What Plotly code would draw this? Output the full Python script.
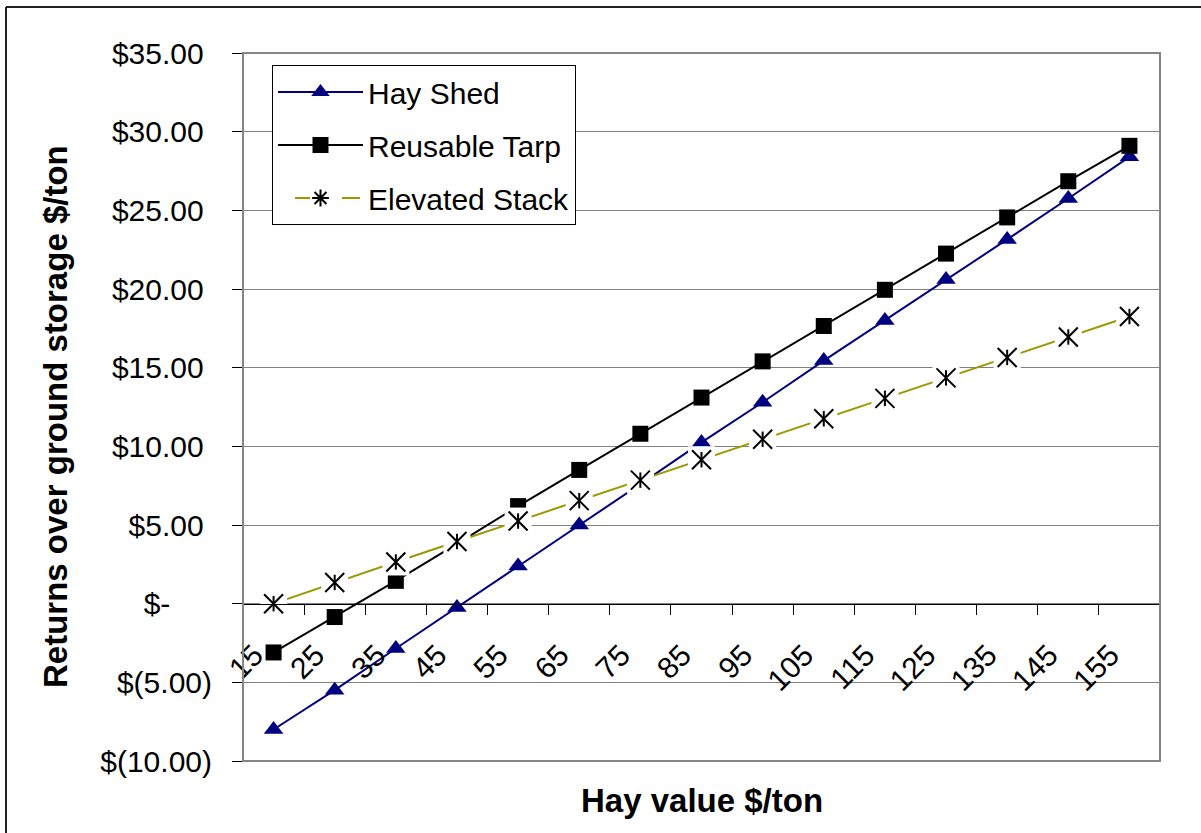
import plotly.graph_objects as go

# Hay value categories ($/ton)
hay_value = ["15", "25", "35", "45", "55", "65", "75", "85", "95",
             "105", "115", "125", "135", "145", "155"]

# Returns over ground storage ($/ton) for each storage method
hay_shed = [-8.0, -5.5, -2.85, -0.25, 2.4, 5.0, 7.6, 10.25, 12.8,
            15.45, 18.0, 20.6, 23.15, 25.75, 28.4]
reusable_tarp = [-3.1, -0.85, 1.45, 3.8, 6.2, 8.5, 10.8, 13.1, 15.4,
                 17.65, 19.95, 22.25, 24.55, 26.85, 29.1]
elevated_stack = [0.0, 1.35, 2.65, 3.95, 5.25, 6.55, 7.85, 9.15, 10.45,
                  11.75, 13.05, 14.35, 15.65, 16.95, 18.25]

# Accounting-style y tick labels
y_ticks = [-10, -5, 0, 5, 10, 15, 20, 25, 30, 35]
NB = "\u00a0"
y_tick_text = ["$(10.00)", "$(5.00)", "$-" + NB * 5, "$5.00" + NB, "$10.00" + NB,
               "$15.00" + NB, "$20.00" + NB, "$25.00" + NB, "$30.00" + NB, "$35.00" + NB]

NAVY = "#000080"
OLIVE = "#999900"
FONT = "Liberation Sans, Arial, sans-serif"
TXT = 30
TITLE = 33

W, H = 1201, 833
L, R, T, B = 243, 41, 53, 72
PW, PH = W - L - R, H - T - B


def px_x(px):
    return (px - L) / PW


def px_y(py):
    return (H - B - py) / PH


fig = go.Figure()

fig.add_trace(go.Scatter(
    x=hay_value, y=hay_shed, name="Hay Shed", mode="lines+markers",
    line=dict(color=NAVY, width=2),
    marker=dict(symbol="triangle-up", size=17, color=NAVY),
    legendgroup="a", legendrank=1,
))
fig.add_trace(go.Scatter(
    x=hay_value, y=reusable_tarp, name="Reusable Tarp", mode="lines+markers",
    line=dict(color="black", width=2),
    marker=dict(symbol="square", size=16, color="black"),
    legendgroup="b", legendrank=2,
))
# Elevated stack: line, white backing behind each star, then the star strokes
fig.add_trace(go.Scatter(
    x=hay_value, y=elevated_stack, mode="lines", showlegend=False,
    line=dict(color=OLIVE, width=2), hoverinfo="skip",
))
fig.add_trace(go.Scatter(
    x=hay_value, y=elevated_stack, mode="markers", showlegend=False,
    marker=dict(symbol="square", size=27, color="white", line=dict(width=0)),
    hoverinfo="skip",
))
fig.add_trace(go.Scatter(
    x=hay_value, y=elevated_stack, mode="markers", showlegend=False,
    marker=dict(symbol="x-thin-open", size=19, color="black",
                line=dict(color="black", width=2)),
    name="Elevated Stack",
))
fig.add_trace(go.Scatter(
    x=hay_value, y=elevated_stack, mode="markers", showlegend=False,
    marker=dict(symbol="line-ns-open", size=11, color="black",
                line=dict(color="black", width=2)),
    hoverinfo="skip",
))
# legend entry for the elevated stack series (line broken around the star)
fig.add_trace(go.Scatter(
    x=[None], y=[None], name="Elevated Stack", mode="lines+markers",
    line=dict(color=OLIVE, width=2, dash="0px,17px,15px,32px,18px,200px"),
    marker=dict(symbol="asterisk-open", size=14, color="black",
                line=dict(color="black", width=2)),
    legendgroup="c", legendrank=3,
))

fig.update_layout(
    width=W, height=H,
    margin=dict(l=L, r=R, t=T, b=B, pad=0),
    paper_bgcolor="white", plot_bgcolor="white",
    font=dict(family=FONT, size=TXT, color="black"),
    showlegend=True,
    legend=dict(
        x=px_x(272), y=px_y(65), xanchor="left", yanchor="top",
        bgcolor="white", bordercolor="black", borderwidth=1,
        font=dict(size=TXT), tracegroupgap=11, itemwidth=85,
    ),
    xaxis=dict(
        type="category", range=[-0.5, 14.5],
        anchor="free", position=10 / 45,
        showline=True, linecolor="black", linewidth=1,
        ticks="outside", tickson="boundaries", ticklen=10, tickcolor="black",
        tickangle=-45, tickfont=dict(size=TXT), showgrid=False, zeroline=False,
        ticklabelstandoff=21, ticklabelshift=-19,
    ),
    yaxis=dict(
        range=[-10, 35], tickvals=y_ticks, ticktext=y_tick_text,
        ticks="outside", ticklen=10, tickcolor="black",
        showgrid=True, gridcolor="#808080", gridwidth=1,
        zeroline=False, showline=False, tickfont=dict(size=TXT),
        ticklabelstandoff=14,
    ),
    annotations=[
        dict(text="<b>Hay value $/ton</b>", xref="paper", yref="paper",
             x=0.5, y=px_y(800), xanchor="center", yanchor="middle",
             showarrow=False, font=dict(size=TITLE)),
        dict(text="<b>Returns over ground storage $/ton</b>", xref="paper", yref="paper",
             x=px_x(55), y=px_y(417), xanchor="center", yanchor="middle",
             textangle=-90, showarrow=False, font=dict(size=TITLE)),
    ],
    shapes=[
        dict(type="rect", xref="paper", yref="paper", x0=0, y0=0, x1=1, y1=1,
             line=dict(color="#858585", width=2), layer="above"),
        dict(type="line", xref="paper", yref="paper",
             x0=px_x(6), y0=px_y(7), x1=px_x(W + 10), y1=px_y(7),
             line=dict(color="#222222", width=2)),
        dict(type="line", xref="paper", yref="paper",
             x0=px_x(6), y0=px_y(7), x1=px_x(6), y1=px_y(H + 10),
             line=dict(color="#222222", width=2)),
    ],
)

fig.write_html("out.html")
